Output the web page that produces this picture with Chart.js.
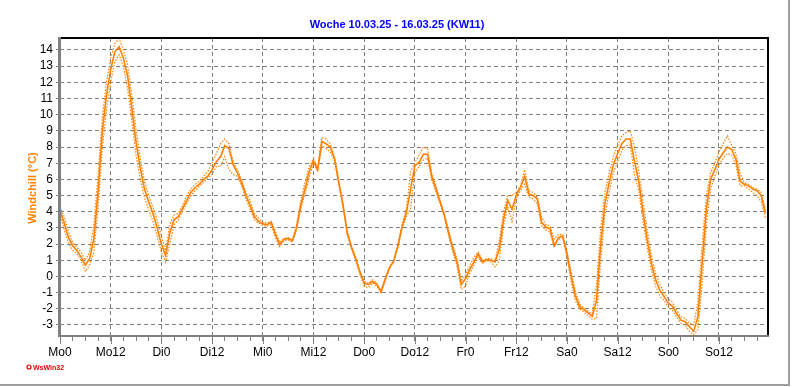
<!DOCTYPE html>
<html><head><meta charset="utf-8">
<script src="https://cdn.jsdelivr.net/npm/chart.js@4.4.1/dist/chart.umd.min.js"></script>
<style>html,body{margin:0;padding:0;background:#fff;} canvas{display:block;}</style>
</head><body>
<canvas id="c" width="792" height="387" style="width:792px;height:387px"></canvas>
<script>
const chartTitle = 'Woche 10.03.25 - 16.03.25 (KW11)';
const yTitle = 'Windchill (°C)';
const tickLabels = ['Mo0','Mo12','Di0','Di12','Mi0','Mi12','Do0','Do12','Fr0','Fr12','Sa0','Sa12','So0','So12'];

const windchill = [
 4.1,3.3,2.4,1.9,1.6,1.2,0.7,1.1,2.3,5.2,8.9,11.2,12.8,13.9,14.2,13.5,12.4,10.4,8.3,6.7,5.4,4.6,3.9,3.0,2.0,1.3,2.7,3.5,
 3.7,4.2,4.7,5.2,5.5,5.7,6.0,6.2,6.6,7.1,7.4,8.1,7.9,6.9,6.4,5.8,5.0,4.4,3.7,3.4,3.25,3.2,3.35,2.6,1.95,2.3,2.35,2.2,
 3.0,4.4,5.4,6.5,7.15,6.6,8.35,8.2,8.0,7.25,5.8,4.4,2.7,1.8,1.1,0.25,-0.4,-0.5,-0.3,-0.5,-0.95,-0.15,0.55,0.95,1.9,3.1,3.95,5.4,
 6.85,7.05,7.55,7.55,6.2,5.4,4.6,3.75,2.7,1.7,0.9,-0.5,-0.15,0.45,0.9,1.4,0.9,1.05,1.0,0.9,1.7,3.55,4.7,4.15,5.0,5.5,6.2,5.1,
 5.0,4.8,3.35,3.05,2.95,1.9,2.4,2.5,1.4,0.0,-1.2,-1.85,-2.05,-2.25,-2.45,-1.5,2.0,4.5,5.8,6.9,7.6,8.2,8.5,8.5,7.1,5.9,4.0,2.3,
 0.8,-0.2,-0.85,-1.25,-1.65,-1.85,-2.3,-2.7,-2.8,-3.1,-3.4,-2.5,0.8,4.15,6.0,6.6,7.25,7.65,8.0,7.85,7.25,5.9,5.7,5.6,5.4,5.3,5.0,3.9
];
const windchillMax = [
 4.3,3.7,2.8,2.1,1.8,1.5,1.0,1.5,3.2,6.2,9.8,12.0,13.5,14.4,14.7,14.0,13.1,11.2,9.1,7.3,5.9,5.0,4.3,3.5,2.5,1.6,3.2,3.8,
 3.9,4.4,5.0,5.4,5.7,5.9,6.2,6.5,7.0,7.6,8.2,8.5,8.2,7.1,6.6,6.0,5.2,4.7,3.9,3.6,3.35,3.3,3.4,2.8,2.1,2.35,2.4,2.25,
 3.2,4.7,5.8,6.8,7.3,6.7,8.6,8.5,8.2,7.4,5.9,4.5,2.8,1.9,1.2,0.35,-0.3,-0.4,-0.2,-0.4,-0.9,-0.1,0.6,1.0,2.0,3.2,4.2,6.5,
 7.0,7.5,8.0,7.9,6.4,5.6,4.7,3.85,2.8,1.9,1.1,-0.3,0.1,0.7,1.2,1.5,1.0,1.1,1.1,1.0,2.2,4.0,5.0,5.0,5.2,5.6,6.6,5.3,
 5.2,4.9,3.7,3.2,3.1,2.3,2.6,2.6,1.6,0.3,-0.9,-1.7,-1.95,-2.15,-2.3,-0.5,3.0,5.2,6.4,7.4,8.1,8.7,8.9,9.0,8.0,6.5,4.7,2.9,
 1.3,0.2,-0.5,-1.0,-1.4,-1.6,-2.1,-2.5,-2.6,-2.9,-3.0,-1.6,2.0,5.0,6.4,7.0,7.7,8.2,8.7,8.1,7.6,6.4,5.8,5.7,5.5,5.4,5.2,4.1
];
const windchillMin = [
 3.9,2.9,2.1,1.6,1.4,1.0,0.3,0.7,1.5,4.2,7.9,10.3,12.0,13.3,13.7,13.0,11.6,9.6,7.5,6.0,4.9,4.1,3.4,2.5,1.5,0.9,2.0,3.2,
 3.5,4.0,4.5,5.0,5.3,5.6,5.8,6.1,6.3,6.8,6.8,7.4,6.6,6.3,6.2,5.6,4.8,4.2,3.5,3.3,3.15,3.1,3.2,2.4,1.85,2.2,2.25,2.15,
 2.9,4.2,5.1,6.1,7.0,6.5,8.1,7.9,7.7,7.1,5.7,4.3,2.6,1.7,1.0,0.15,-0.6,-0.7,-0.4,-0.6,-1.0,-0.25,0.5,0.9,1.8,3.0,3.7,4.2,
 6.4,6.8,7.2,7.3,6.0,5.2,4.5,3.65,2.5,1.5,0.6,-0.8,-0.6,0.2,0.7,1.2,0.8,1.0,0.9,0.6,1.0,3.1,4.3,3.4,4.8,5.3,5.7,4.9,
 4.8,4.5,3.1,2.9,2.7,1.8,2.3,2.4,1.2,-0.3,-1.5,-2.0,-2.2,-2.4,-2.65,-2.6,1.0,3.8,5.2,6.4,7.1,7.8,8.1,8.1,6.3,5.3,3.4,1.8,
 0.4,-0.6,-1.2,-1.5,-1.9,-2.1,-2.5,-2.9,-3.0,-3.4,-3.6,-3.3,-0.5,3.2,5.4,6.2,6.9,7.3,7.6,7.5,6.9,5.6,5.6,5.4,5.2,5.0,4.6,3.6
];
const hours = windchill.map((_, i) => i);

const toPts = arr => arr.map((v, i) => ({x: hours[i], y: v}));
const ORANGE = 'rgb(255,128,0)';
const GRID = '#808080';

Chart.defaults.font.family = '"Liberation Sans", Arial, sans-serif';

const decor = {
  id: 'decor',
  afterDraw(chart) {
    const ctx = chart.ctx;
    const a = chart.chartArea;
    ctx.save();
    ctx.fillStyle = '#000';
    ctx.fillRect(a.left, a.top - 1, a.right - a.left + 1, 2);
    ctx.fillRect(a.right - 1, a.top - 1, 2, a.bottom - a.top + 2);
    ctx.fillStyle = GRID;
    ctx.fillRect(a.left - 2, a.top - 1, 3, a.bottom - a.top + 2);
    ctx.fillRect(a.left - 2, a.bottom - 1, a.right - a.left + 3, 2);
    // longer marks at major x ticks
    const xs = chart.scales.x;
    for (let k = 0; k < tickLabels.length; k++) {
      const px = Math.round(xs.getPixelForValue(k * 12)) + 0.5;
      ctx.fillRect(px - 0.5, a.bottom + 1, 1, 7);
    }
    ctx.fillStyle = '#a0a0a0';
    ctx.fillRect(788, 0, 2, 386);
    ctx.fillRect(0, 384, 790, 2);
    ctx.fillStyle = '#0000ff';
    ctx.font = 'bold 11px "Liberation Sans", Arial, sans-serif';
    ctx.textAlign = 'center';
    ctx.textBaseline = 'alphabetic';
    ctx.fillText(chartTitle, 397, 28);
    ctx.save();
    ctx.translate(36, 188);
    ctx.rotate(-Math.PI / 2);
    ctx.fillStyle = ORANGE;
    ctx.font = 'bold 11px "Liberation Sans", Arial, sans-serif';
    ctx.textAlign = 'center';
    ctx.fillText(yTitle, 0, 0);
    ctx.restore();
    ctx.strokeStyle = '#e00000';
    ctx.lineWidth = 1.2;
    ctx.beginPath();
    ctx.arc(29, 367, 2, 0, Math.PI * 2);
    ctx.stroke();
    ctx.fillStyle = '#e00000';
    ctx.font = 'bold 7px "Liberation Sans", Arial, sans-serif';
    ctx.textAlign = 'left';
    ctx.fillText('WsWin32', 33, 370);
    ctx.restore();
  }
};

new Chart(document.getElementById('c'), {
  type: 'line',
  data: {
    datasets: [
      {label: 'max', data: toPts(windchillMax), borderColor: ORANGE, borderWidth: 1.2, borderDash: [1.5, 1.5], pointRadius: 0, tension: 0, fill: false},
      {label: 'min', data: toPts(windchillMin), borderColor: ORANGE, borderWidth: 1.2, borderDash: [1.5, 1.5], pointRadius: 0, tension: 0, fill: false},
      {label: 'Windchill', data: toPts(windchill), borderColor: ORANGE, borderWidth: 1.6, pointRadius: 0, tension: 0, fill: false}
    ]
  },
  options: {
    responsive: false,
    animation: false,
    devicePixelRatio: 1,
    layout: {padding: {top: 38, right: 24, left: 0, bottom: 0}},
    plugins: {legend: {display: false}, tooltip: {enabled: false}, title: {display: false}},
    scales: {
      x: {
        type: 'linear', min: 0, max: 167.6,
        afterFit: s => { s.height = 51; },
        ticks: {
          stepSize: 3, autoSkip: false, maxRotation: 0, includeBounds: false,
          color: '#000', font: {size: 12}, padding: 4,
          callback: v => (v % 12 === 0 ? tickLabels[v / 12] : '')
        },
        grid: {
          color: c => (c.tick && c.tick.value % 12 === 0 ? GRID : 'rgba(0,0,0,0)'),
          tickColor: GRID, tickLength: 5, lineWidth: 1, drawTicks: true
        },
        border: {display: false, dash: [4, 3]}
      },
      y: {
        type: 'linear', min: -3.68, max: 14.74,
        afterFit: s => { s.width = 60; },
        ticks: {stepSize: 1, includeBounds: false, color: '#000', font: {size: 12}, padding: 3},
        grid: {color: GRID, tickColor: GRID, tickLength: 4, lineWidth: 1},
        border: {display: false, dash: [4, 3]}
      }
    }
  },
  plugins: [decor]
});
</script>
</body></html>
